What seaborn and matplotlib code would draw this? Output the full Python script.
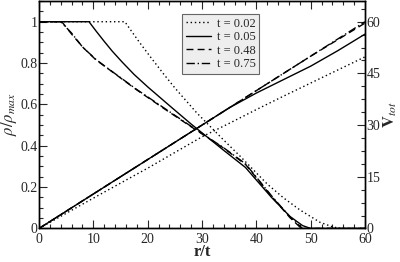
import matplotlib
matplotlib.use("Agg")
import matplotlib.pyplot as plt
import seaborn as sns
from matplotlib.ticker import MultipleLocator

# density profiles rho/rho_max vs r/t
r_02 = [0, 15.8, 17, 18.5, 20.5, 23, 25, 29, 33.9, 37, 42, 45, 48, 51.7, 54, 55.5, 60]
rho_02 = [1, 1, 0.955, 0.9, 0.83, 0.745, 0.68, 0.56, 0.43, 0.35, 0.215, 0.148, 0.09, 0.03, 0.008, 0, 0]

r_05 = [0, 9.2, 10.5, 12, 13.5, 15.3, 17.5, 20, 24.2, 28, 33.9, 38, 42.8, 46.2, 48.5, 50, 60]
rho_05 = [1, 1, 0.955, 0.905, 0.857, 0.805, 0.745, 0.685, 0.59, 0.505, 0.38, 0.295, 0.15, 0.058, 0.014, 0, 0]

r_48 = [0, 4.2, 6, 8.2, 10.5, 13.1, 18, 23, 28, 33.9, 38, 42.8, 46.2, 48.3, 60]
rho_48 = [1, 1, 0.94, 0.873, 0.815, 0.765, 0.67, 0.58, 0.492, 0.39, 0.31, 0.155, 0.052, 0, 0]

r_75 = [0, 4.0, 6, 8.0, 10.5, 13.0, 18, 23, 28, 33.9, 38, 42.8, 46.2, 48.5, 60]
rho_75 = [1, 1, 0.945, 0.878, 0.817, 0.768, 0.672, 0.583, 0.494, 0.392, 0.313, 0.158, 0.056, 0, 0]

# total velocity V_tot vs r/t
r_v = [0, 10, 20, 30, 35, 40, 45, 50, 55, 60]
v_02 = [0, 8.8, 17.5, 26.6, 30.5, 34.5, 38.4, 42.2, 46.0, 49.8]
v_05 = [0, 10, 20, 30, 35, 39.3, 43.2, 47.1, 51.6, 56.4]
v_48 = [0, 10, 20, 30, 35, 40, 45, 50, 54.8, 59.6]
v_75 = [0, 10, 20, 30, 35, 40, 45, 50, 55, 60]

labels = ["t = 0.02", "t = 0.05", "t = 0.48", "t = 0.75"]
styles = [(0, (1, 2)), "-", (0, (5, 3)), (0, (6, 2, 1, 2))]

sns.set_style("ticks")
plt.rcParams["font.family"] = ["Liberation Serif", "DejaVu Serif"]
plt.rcParams["mathtext.fontset"] = "stix"

fig = plt.figure(figsize=(4, 2.62), dpi=100)
ax = fig.add_axes([0.0975, 0.128, 0.815, 0.868])
ax2 = ax.twinx()

dens = [(r_02, rho_02), (r_05, rho_05), (r_48, rho_48), (r_75, rho_75)]
vels = [v_02, v_05, v_48, v_75]
for (rr, rho), v, lab, ls in zip(dens, vels, labels, styles):
    sns.lineplot(x=rr, y=rho, ax=ax, color="black", linestyle=ls, lw=1.0, label=lab)
    sns.lineplot(x=r_v, y=v, ax=ax2, color="black", linestyle=ls, lw=1.0, legend=False)

ax.set_xlim(0, 60)
ax.set_ylim(0, 1.1)
ax2.set_ylim(0, 66)

ax.xaxis.set_major_locator(MultipleLocator(10))
ax.xaxis.set_minor_locator(MultipleLocator(2))
ax.yaxis.set_major_locator(MultipleLocator(0.2))
ax.yaxis.set_minor_locator(MultipleLocator(0.05))
ax2.yaxis.set_major_locator(MultipleLocator(15))
ax2.yaxis.set_minor_locator(MultipleLocator(3.75))

ax.set_yticks([0, 0.2, 0.4, 0.6, 0.8, 1.0])
ax.set_yticklabels(["0", "0.2", "0.4", "0.6", "0.8", "1"])

for a in (ax, ax2):
    a.tick_params(which="both", direction="in", labelsize=10, pad=1, width=0.8)
    a.tick_params(which="major", length=6)
    a.tick_params(which="minor", length=3)
    for s in a.spines.values():
        s.set_linewidth(1.0)
        s.set_color("black")
ax.tick_params(axis="x", which="both", top=True, pad=3)
ax.tick_params(axis="y", which="both", right=False)

ax.set_xlabel("r/t", fontsize=12, fontweight="bold", labelpad=-1)
ax.set_ylabel(r"$\rho/\rho_{max}$", fontsize=12, labelpad=1)
ax2.set_ylabel(r"$\mathbf{V}_{tot}$", fontsize=12, labelpad=1)

leg = ax.legend(loc="upper left", bbox_to_anchor=(0.438, 0.943), fontsize=9,
                frameon=True, fancybox=False, framealpha=1, handlelength=2.0,
                handletextpad=0.5, borderpad=0.3, labelspacing=0.12, borderaxespad=0)
leg.get_frame().set_facecolor("#eeeeee")
leg.get_frame().set_edgecolor("#666666")
leg.get_frame().set_linewidth(0.8)

fig.savefig("out.png", dpi=100)
